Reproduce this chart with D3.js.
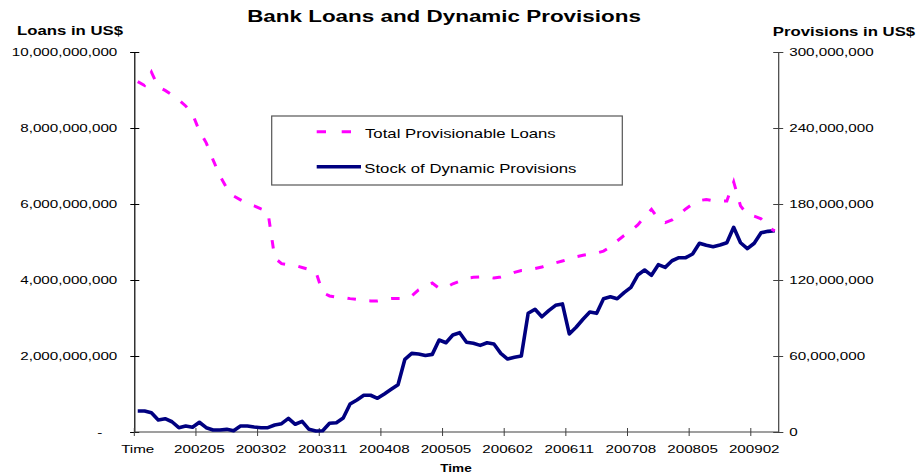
<!DOCTYPE html>
<html>
<head>
<meta charset="utf-8">
<script src="https://cdn.jsdelivr.net/npm/d3@7"></script>
<style>
  html, body { margin: 0; padding: 0; background: #fff; }
  svg { display: block; }
  text { font-family: "Liberation Sans", Arial, sans-serif; fill: #000; }
</style>
</head>
<body>
<svg id="chart" width="921" height="473"></svg>
<script>
// ---------------- DATA ----------------
const titleText = "Bank Loans and Dynamic Provisions";
const leftAxisTitle = "Loans in US$";
const rightAxisTitle = "Provisions in US$";
const xAxisTitle = "Time";
const seriesNames = ["Total Provisionable Loans", "Stock of Dynamic Provisions"];

// categories: first category is the header "Time", then monthly 200109 .. 200905
const categories = ["Time",
  "200109","200110","200111","200112","200201","200202","200203","200204","200205","200206","200207","200208",
  "200209","200210","200211","200212","200301","200302","200303","200304","200305","200306","200307","200308",
  "200309","200310","200311","200312","200401","200402","200403","200404","200405","200406","200407","200408",
  "200409","200410","200411","200412","200501","200502","200503","200504","200505","200506","200507","200508",
  "200509","200510","200511","200512","200601","200602","200603","200604","200605","200606","200607","200608",
  "200609","200610","200611","200612","200701","200702","200703","200704","200705","200706","200707","200708",
  "200709","200710","200711","200712","200801","200802","200803","200804","200805","200806","200807","200808",
  "200809","200810","200811","200812","200901","200902","200903","200904","200905"];

const xTickLabels = ["Time","200205","200302","200311","200408","200505","200602","200611","200708","200805","200902"];

// Total provisionable loans, billions of US$
const loansBn = [
  9.22, 9.12, 9.47, 9.08, 8.99, 8.87, 8.74, 8.58, 8.37, 7.92,
  7.61, 7.16, 6.74, 6.42, 6.21, 6.11, 6.01, 5.95, 5.87, 5.80,
  4.58, 4.43, 4.40, 4.38, 4.33, 4.28, 4.22, 3.67, 3.58, 3.55,
  3.54, 3.51, 3.49, 3.46, 3.45, 3.45, 3.49, 3.51, 3.51, 3.51,
  3.58, 3.74, 3.82, 3.92, 3.78, 3.80, 3.90, 3.97, 4.05, 4.07,
  4.08, 4.08, 4.05, 4.08, 4.13, 4.20, 4.25, 4.26, 4.30, 4.34,
  4.40, 4.45, 4.50, 4.55, 4.61, 4.65, 4.68, 4.71, 4.76, 4.87,
  5.03, 5.17, 5.29, 5.45, 5.66, 5.86, 5.61, 5.51, 5.58, 5.71,
  5.87, 6.00, 6.09, 6.12, 6.09, 6.07, 6.08, 6.58, 5.95, 5.72,
  5.68, 5.61, 5.40, 5.29];

// Stock of dynamic provisions, millions of US$
const provisionsMn = [
  16.6, 16.6, 15.2, 9.5, 10.5, 8.1, 3.4, 4.7, 3.7, 7.7,
  3.4, 1.6, 1.6, 2.1, 1.0, 4.7, 4.7, 3.9, 3.4, 3.4,
  5.5, 6.6, 10.8, 6.1, 8.4, 2.1, 0.8, 1.0, 6.9, 7.3,
  11.1, 22.1, 25.3, 29.0, 29.0, 26.6, 30.0, 33.7, 37.3, 57.4,
  62.1, 61.6, 60.4, 61.3, 72.6, 70.5, 76.6, 78.4, 70.8, 70.0,
  68.4, 70.5, 69.5, 62.1, 57.6, 59.0, 60.0, 93.7, 96.9, 91.0,
  95.8, 100.0, 101.1, 77.4, 82.7, 89.0, 94.7, 93.7, 105.2, 106.8,
  105.2, 110.0, 114.2, 123.9, 127.9, 123.7, 132.1, 130.0, 135.2, 137.6,
  137.6, 140.5, 149.0, 147.4, 146.3, 147.6, 149.4, 161.6, 149.4, 144.7,
  149.0, 157.3, 158.4, 158.9];

const leftTicksBn = [0, 2, 4, 6, 8, 10];
const rightTicksMn = [0, 60, 120, 180, 240, 300];

// ---------------- LAYOUT / STYLE ----------------
const SX = 1.31; // horizontal stretch of the original rendering
const plot = { left: 134.3, right: 778.2, top: 52, bottom: 432 };
const pink = "#FF00FF", navy = "#000080";

const svg = d3.select("#chart");

function stext(g, x, y, str, size, sx, anchor, weight) {
  return g.append("text")
    .attr("transform", `translate(${x},${y}) scale(${sx},1)`)
    .attr("text-anchor", anchor || "start")
    .style("font-size", size + "px")
    .style("font-weight", weight || "normal")
    .text(str);
}

const x = d3.scaleBand().domain(d3.range(categories.length)).range([plot.left, plot.right]).padding(0);
const xc = i => x(i) + x.bandwidth() / 2;
const yL = d3.scaleLinear().domain([0, 10]).range([plot.bottom, plot.top]);
const yR = d3.scaleLinear().domain([0, 300]).range([plot.bottom, plot.top]);

// Title and axis titles
stext(svg, 444, 21.7, titleText, 17, 1.32, "middle", "bold");
stext(svg, 70, 35, leftAxisTitle, 12.5, 1.34, "middle", "bold");
stext(svg, 844, 35.5, rightAxisTitle, 12.5, 1.34, "middle", "bold");
stext(svg, 456, 471.5, xAxisTitle, 11.5, 1.18, "middle", "bold");

// Left axis
const fmtL = d => d === 0 ? "-" : d3.format(",")(d * 1e9);
const gL = svg.append("g").attr("transform", `translate(${plot.left},0)`)
  .call(d3.axisLeft(yL).tickValues(leftTicksBn).tickFormat(fmtL).tickSize(4).tickPadding(13));
gL.select(".domain").attr("stroke", "#000").attr("stroke-width", 1.2);
gL.selectAll(".tick line").attr("x1", 5).attr("stroke", "#000");
gL.selectAll(".tick text").each(function(d) {
  const t = d3.select(this);
  const xx = d === 0 ? -32 : -17;
  t.attr("x", xx / SX).attr("transform", `scale(${SX},1)`)
   .style("font-size", "11.6px").style("font-family", "Liberation Sans, Arial, sans-serif").attr("fill", "#000");
});

// Right axis
const gR = svg.append("g").attr("transform", `translate(${plot.right},0)`)
  .call(d3.axisRight(yR).tickValues(rightTicksMn).tickFormat(d => d3.format(",")(d * 1e6)).tickSize(5).tickPadding(6));
gR.select(".domain").attr("stroke", "#404040").attr("stroke-width", 1.2);
gR.selectAll(".tick line").attr("x1", -5).attr("stroke", "#404040");
gR.selectAll(".tick text").each(function() {
  const t = d3.select(this);
  t.attr("x", 11 / SX).attr("transform", `scale(${SX},1)`)
   .style("font-size", "11.6px").style("font-family", "Liberation Sans, Arial, sans-serif").attr("fill", "#000");
});

// Bottom axis: labels at category centres, tick marks at category boundaries
const tickIdx = categories.map((c, i) => i).filter(i => xTickLabels.includes(categories[i]));
const gB = svg.append("g").attr("transform", `translate(0,${plot.bottom})`)
  .call(d3.axisBottom(x).tickValues(tickIdx).tickFormat(i => categories[i]).tickSize(0).tickPadding(12.8));
gB.select(".domain").remove();
gB.selectAll(".tick text").each(function() {
  d3.select(this).attr("transform", `scale(${SX},1)`)
    .style("font-size", "11.6px").style("font-family", "Liberation Sans, Arial, sans-serif").attr("fill", "#000");
});
gB.append("line").attr("x1", plot.left).attr("x2", plot.right).attr("y1", 0).attr("y2", 0)
  .attr("stroke", "#404040").attr("stroke-width", 1.2);
gB.selectAll(".bt").data(tickIdx).enter().append("line")
  .attr("x1", i => x(i)).attr("x2", i => x(i)).attr("y1", -4).attr("y2", 4)
  .attr("stroke", "#404040").attr("stroke-width", 1);

// Lines
const lineL = d3.line().x((d, i) => xc(i)).y(d => yL(d));
const lineR = d3.line().x((d, i) => xc(i)).y(d => yR(d));

svg.append("path").datum(provisionsMn).attr("d", lineR)
  .attr("fill", "none").attr("stroke", navy).attr("stroke-width", 3.6).attr("stroke-linejoin", "round");
svg.append("path").datum(loansBn).attr("d", lineL)
  .attr("fill", "none").attr("stroke", pink).attr("stroke-width", 3).attr("stroke-dasharray", "8.5,13.5");

// Legend
const lg = svg.append("g");
lg.append("rect").attr("x", 271.7).attr("y", 116).attr("width", 350.6).attr("height", 69)
  .attr("fill", "#fff").attr("stroke", "#555").attr("stroke-width", 1.2);
lg.append("line").attr("x1", 316.7).attr("x2", 361).attr("y1", 131.7).attr("y2", 131.7)
  .attr("stroke", pink).attr("stroke-width", 3).attr("stroke-dasharray", "9.3,15.7");
lg.append("line").attr("x1", 316.7).attr("x2", 361).attr("y1", 166.7).attr("y2", 166.7)
  .attr("stroke", navy).attr("stroke-width", 3.6);
stext(lg, 365, 138.3, seriesNames[0], 13.4, 1.25, "start");
stext(lg, 364.3, 173.3, seriesNames[1], 13.4, 1.25, "start");
</script>
</body>
</html>
